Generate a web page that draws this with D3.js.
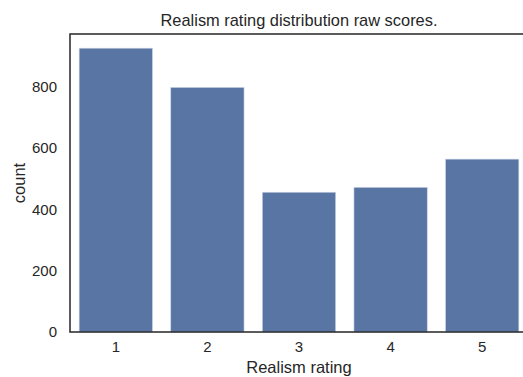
<!DOCTYPE html>
<html>
<head>
<meta charset="utf-8">
<script src="https://cdn.jsdelivr.net/npm/d3@7"></script>
<style>
  body { margin: 0; background: #fff; }
  text { font-family: "Liberation Sans", Arial, sans-serif; fill: #262626; }
</style>
</head>
<body>
<div id="chart"></div>
<script>
// Realism rating counts
const ratings = ["1", "2", "3", "4", "5"];
const counts = [926, 798, 456, 472, 564];
const yTicks = [0, 200, 400, 600, 800];

const width = 523;
const height = 377;
const margin = { top: 34, left: 70, bottom: 45 };
const plotRight = 528; // axes run slightly past the window edge

const svg = d3.select("#chart")
    .append("svg")
    .attr("width", width)
    .attr("height", height);

const x = d3.scaleBand()
    .domain(ratings)
    .range([margin.left, plotRight])
    .paddingInner(0.2)
    .paddingOuter(0.1);

const y = d3.scaleLinear()
    .domain([0, d3.max(counts) * 1.05])
    .range([height - margin.bottom, margin.top]);

// bars
svg.selectAll("rect.bar")
    .data(counts)
    .enter()
    .append("rect")
    .attr("class", "bar")
    .attr("x", (d, i) => x(ratings[i]))
    .attr("y", d => y(d))
    .attr("width", x.bandwidth())
    .attr("height", d => y(0) - y(d))
    .attr("fill", "#5975a4")
    .attr("stroke", "#c9d3e3")
    .attr("stroke-width", 0.6);

// y tick labels (no tick marks, seaborn white style)
const yAxis = d3.axisLeft(y).tickValues(yTicks).tickSize(0).tickPadding(13);
const gy = svg.append("g")
    .attr("transform", `translate(${margin.left},0)`)
    .call(yAxis);
gy.select(".domain").remove();
gy.selectAll("text").style("font-size", "15px").attr("fill", "#262626");

const xAxis = d3.axisBottom(x).tickSize(0).tickPadding(9);
const gx = svg.append("g")
    .attr("transform", `translate(0,${height - margin.bottom})`)
    .call(xAxis);
gx.select(".domain").remove();
gx.selectAll("text").style("font-size", "15px").attr("fill", "#262626");

// spines
svg.append("rect")
    .attr("x", margin.left)
    .attr("y", margin.top)
    .attr("width", plotRight - margin.left)
    .attr("height", height - margin.bottom - margin.top)
    .attr("fill", "none")
    .attr("stroke", "#262626")
    .attr("stroke-width", 1.5);

// title and labels
svg.append("text")
    .attr("x", (margin.left + plotRight) / 2)
    .attr("y", 26)
    .attr("text-anchor", "middle")
    .style("font-size", "16.4px")
    .text("Realism rating distribution raw scores.");

svg.append("text")
    .attr("x", (margin.left + plotRight) / 2)
    .attr("y", 373)
    .attr("text-anchor", "middle")
    .style("font-size", "16.5px")
    .text("Realism rating");

svg.append("text")
    .attr("transform", `translate(25,${(margin.top + height - margin.bottom) / 2}) rotate(-90)`)
    .attr("text-anchor", "middle")
    .style("font-size", "16.5px")
    .text("count");
</script>
</body>
</html>
